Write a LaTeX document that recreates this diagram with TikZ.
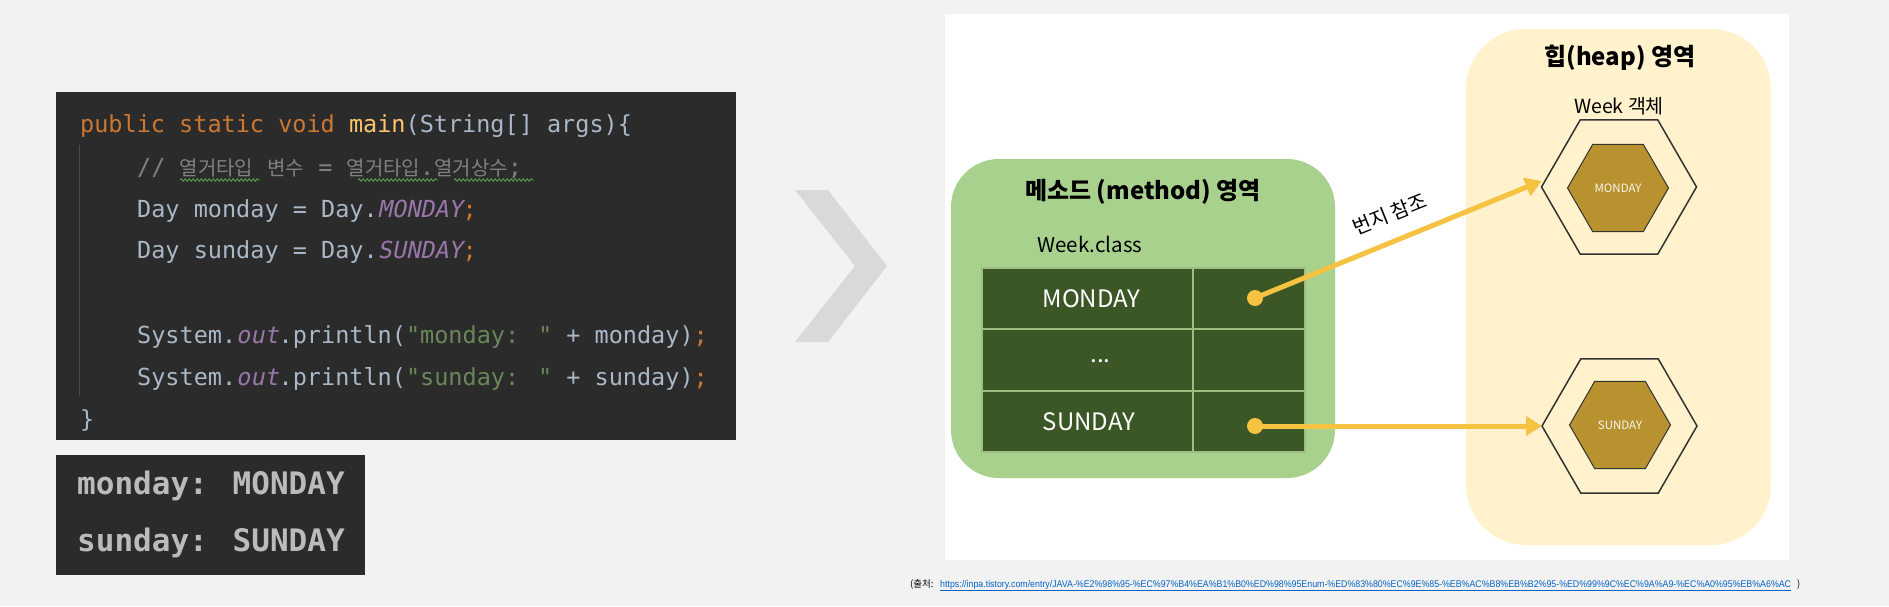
\documentclass[tikz,border=0pt]{standalone}
\usepackage{fontspec}
\usepackage{graphicx}
\usetikzlibrary{arrows.meta,shapes.geometric,decorations.pathmorphing}
\newfontfamily\kr{Noto Sans CJK KR}
\newfontfamily\mono{DejaVu Sans Mono}
\newfontfamily\monoit{DejaVu Sans Mono}[FakeSlant=0.2]
\newfontfamily\lib{Liberation Sans}
\newcommand\krc[1]{{\kr\fontsize{20}{24}\selectfont #1}}
\definecolor{bgc}{HTML}{F2F2F2}
\definecolor{codebg}{HTML}{2B2B2B}
\definecolor{chev}{HTML}{D9D9D9}
\definecolor{kw}{HTML}{CC7832}
\definecolor{fn}{HTML}{FFC66D}
\definecolor{tx}{HTML}{A9B7C6}
\definecolor{cm}{HTML}{808080}
\definecolor{pu}{HTML}{9876AA}
\definecolor{st}{HTML}{6A8759}
\definecolor{outc}{HTML}{BBBBBB}
\definecolor{greenbg}{HTML}{A9D18E}
\definecolor{tablegreen}{HTML}{3B5726}
\definecolor{tableline}{HTML}{9DBE7E}
\definecolor{heapbg}{HTML}{FFF2CC}
\definecolor{arrowc}{HTML}{F5C242}
\definecolor{hexfill}{HTML}{B8922E}
\definecolor{hexline}{HTML}{333333}
\definecolor{linkc}{HTML}{0563C1}
\begin{document}
\begin{tikzpicture}[x=1pt,y=-1pt,
  codeline/.style={anchor=base west, inner sep=0pt, text=tx, font=\mono\fontsize{23.5}{28}\selectfont},
  outline/.style={anchor=base west, inner sep=0pt, text=outc, font=\mono\bfseries\fontsize{31}{36}\selectfont},
  squig/.style={draw=st!80!green, line width=0.9pt, decorate, decoration={snake, amplitude=1.2pt, segment length=4pt}},
  region/.style={inner sep=0pt, outer sep=0pt},
  cell/.style={rectangle, draw=tableline, line width=1.5pt, fill=tablegreen, minimum height=61pt, inner sep=0pt, outer sep=0pt, text=white, font=\kr\fontsize{24}{28}\selectfont},
  outerhex/.style={regular polygon, regular polygon sides=6, draw=hexline, line width=1.5pt, minimum size=155pt, inner sep=0pt, outer sep=0pt},
  innerhex/.style={regular polygon, regular polygon sides=6, draw=hexline, line width=1pt, fill=hexfill, minimum size=101pt, inner sep=0pt, outer sep=0pt, text={white!92!hexfill}, font=\kr\fontsize{11.5}{13}\selectfont},
  refdot/.style={circle, fill=arrowc, minimum size=16pt, inner sep=0pt},
  refarrow/.style={draw=arrowc, line width=5pt, -{Triangle[length=16pt,width=19pt]}},
  title/.style={inner sep=0pt, font=\kr\bfseries\fontsize{24}{28}\selectfont}
]
\useasboundingbox (0,0) rectangle (1889,606);
\fill[bgc] (0,0) rectangle (1889,606);

% ---------- code screenshot ----------
\fill[codebg] (56,92) rectangle (736,440);
\draw[color=codebg!85!white, line width=1pt] (79,145) -- (79,396);
\node[codeline] (l1) at (80,132) {{\color{kw}public static void }{\color{fn}main}(String[] args)\{};
\node[codeline] (l2) at (137,175) {\color{cm}// \krc{열거타입} \krc{변수} = \krc{열거타입}.\krc{열거상수};};
\draw[squig] (180,180) -- (260,180);
\draw[squig] (358,180) -- (438,180);
\draw[squig] (454,180) -- (534,180);
\node[codeline] (l3) at (137,217) {Day monday = Day.{\monoit\color{pu}MONDAY}{\color{kw};}};
\node[codeline] (l4) at (137,258) {Day sunday = Day.{\monoit\color{pu}SUNDAY}{\color{kw};}};
\node[codeline] (l6) at (137,343) {System.{\monoit\color{pu}out}.println({\color{st}"monday: "} + monday){\color{kw};}};
\node[codeline] (l7) at (137,385) {System.{\monoit\color{pu}out}.println({\color{st}"sunday: "} + sunday){\color{kw};}};
\node[codeline] (l8) at (80,427) {\}};

% ---------- console output ----------
\fill[codebg] (56,455) rectangle (365,575);
\node[outline] (o1) at (77,494) {monday: MONDAY};
\node[outline] (o2) at (77,551) {sunday: SUNDAY};

% ---------- chevron ----------
\fill[chev] (795,190) -- (828,190) -- (887,266) -- (828,342) -- (795,342) -- (855,266) -- cycle;

% ---------- diagram panel ----------
\fill[white] (945,14) rectangle (1789,560);

\node[region, fill=greenbg, rounded corners=48pt, minimum width=384pt, minimum height=319pt] (meth) at (1143,318.5) {};
\node[title] (methtitle) at (1143,192) {메소드 (method) 영역};
\node[inner sep=0pt, font=\kr\fontsize{20.5}{24}\selectfont] (wclass) at (1090,244) {Week.class};

\node[cell, minimum width=211pt] (c11) at (1087.5,298.5) {\hspace*{8pt}MONDAY};
\node[cell, minimum width=112pt] (c12) at (1249,298.5) {};
\node[cell, minimum width=211pt] (c21) at (1087.5,360) {\hspace*{26pt}\raisebox{-6pt}{...}};
\node[cell, minimum width=112pt] (c22) at (1249,360) {};
\node[cell, minimum width=211pt] (c31) at (1087.5,421.5) {\hspace*{3pt}SUNDAY};
\node[cell, minimum width=112pt] (c32) at (1249,421.5) {};

\node[region, fill=heapbg, rounded corners=60pt, minimum width=305pt, minimum height=516pt] (heap) at (1618.5,287) {};
\node[title] (heaptitle) at (1620,58) {힙(heap) 영역};
\node[inner sep=0pt, font=\kr\fontsize{19.5}{23}\selectfont] (wobj) at (1619,106) {Week 객체};

\node[outerhex] (omon) at (1619,187) {};
\node[innerhex] (imon) at (1618,188) {MONDAY};
\node[outerhex] (osun) at (1619.5,426) {};
\node[innerhex] (isun) at (1620,425) {SUNDAY};

\node[refdot] (dm) at (1255,298) {};
\node[refdot] (ds) at (1255,426) {};
\draw[refarrow] (dm.center) -- ([yshift=6pt]omon.west);
\draw[refarrow] (ds.center) -- (osun.west);
\node[inner sep=0pt, rotate=22, font=\kr\fontsize{20}{24}\selectfont] (ref) at (1390,214) {번지 참조};

% ---------- source line ----------
\node[anchor=base west, inner sep=0pt, font=\kr\fontsize{9.5}{11}\selectfont] (src) at (910,587) {(출처: };
\node[anchor=base west, inner sep=0pt, text=linkc] (url) at (940,587) {\resizebox{851pt}{7pt}{\lib\underline{https://inpa.tistory.com/entry/JAVA-\%E2\%98\%95-\%EC\%97\%B4\%EA\%B1\%B0\%ED\%98\%95Enum-\%ED\%83\%80\%EC\%9E\%85-\%EB\%AC\%B8\%EB\%B2\%95-\%ED\%99\%9C\%EC\%9A\%A9-\%EC\%A0\%95\%EB\%A6\%AC}}};
\node[anchor=base west, inner sep=0pt, font=\kr\fontsize{9.5}{11}\selectfont] (srcend) at (1797,587) {)};
\end{tikzpicture}
\end{document}
